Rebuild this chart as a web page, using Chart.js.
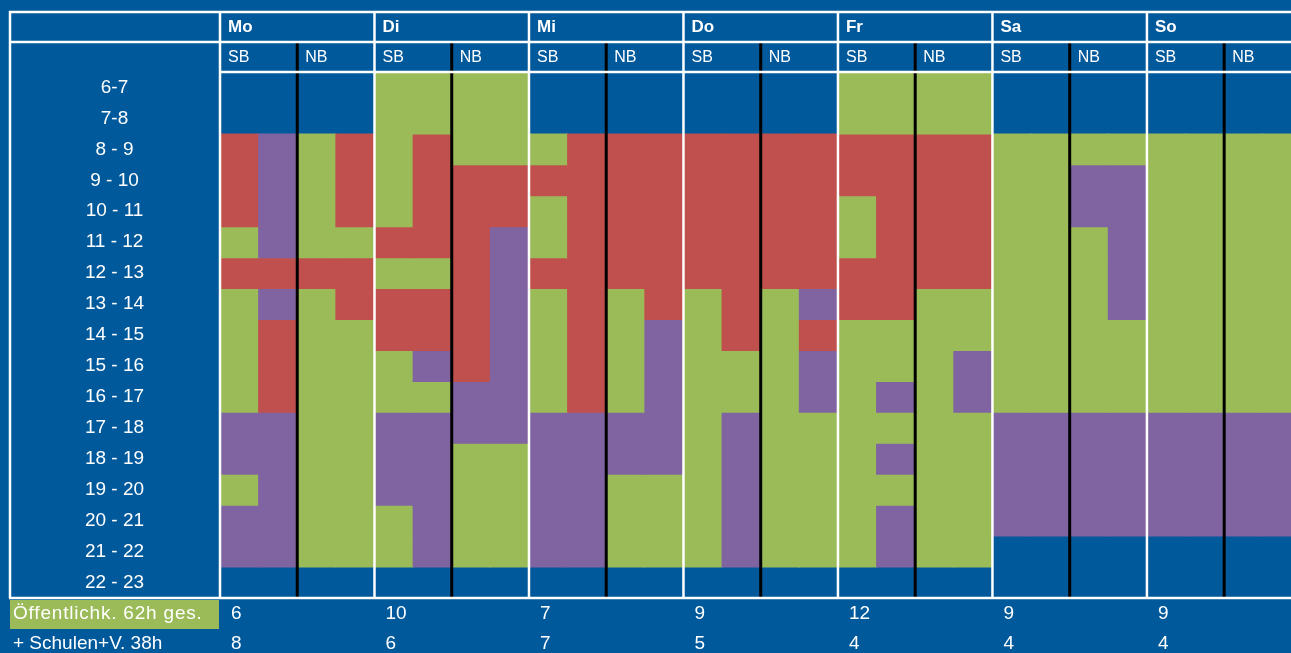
<!DOCTYPE html>
<html>
<head>
<meta charset="utf-8">
<script src="https://cdn.jsdelivr.net/npm/chart.js"></script>
<style>
  html, body { margin: 0; padding: 0; background: #00599b; overflow: hidden; }
  canvas { display: block; }
</style>
</head>
<body>
<canvas id="plan" width="1291" height="653"></canvas>
<script>
var days = ['Mo', 'Di', 'Mi', 'Do', 'Fr', 'Sa', 'So'];
var halves = ['SB', 'NB'];
var hours = ['6-7', '7-8', '8 - 9', '9 - 10', '10 - 11', '11 - 12', '12 - 13', '13 - 14', '14 - 15',
             '15 - 16', '16 - 17', '17 - 18', '18 - 19', '19 - 20', '20 - 21', '21 - 22', '22 - 23'];

// each day: 4 sub-columns (SB left, SB right, NB left, NB right), one letter per hour row
// B = nothing, G = green, R = red, P = purple
var mo = ['BBRRRGRGGGGPPGPPB', 'BBPPPPRPRRRPPPPPB', 'BBGGGGRGGGGGGGGGB', 'BBRRRGRRGGGGGGGGB'];
var di = ['GGGGGRGRRGGPPPGGB', 'GGRRRRGRRPGPPPPPB', 'GGGRRRRRRRPPGGGGB', 'GGGRRPPPPPPPGGGGB'];
var mi = ['BBGRGGRGGGGPPPPPB', 'BBRRRRRRRRRPPPPPB', 'BBRRRRRGGGGPPGGGB', 'BBRRRRRRPPPPPGGGB'];
var dn = ['BBRRRRRGGGGGGGGGB', 'BBRRRRRRRGGPPPPPB', 'BBRRRRRGGGGGGGGGB', 'BBRRRRRPRPPGGGGGB'];
var fr = ['GGRRGGRRGGGGGGGGB', 'GGRRRRRRGGPGPGPPB', 'GGRRRRRGGGGGGGGGB', 'GGRRRRRGGPPGGGGGB'];
var sa = ['BBGGGGGGGGGPPPPBB', 'BBGGGGGGGGGPPPPBB', 'BBGPPGGGGGGPPPPBB', 'BBGPPPPPGGGPPPPBB'];
var so = ['BBGGGGGGGGGPPPPBB', 'BBGGGGGGGGGPPPPBB', 'BBGGGGGGGGGPPPPBB', 'BBGGGGGGGGGPPPPBB'];

var rowTitles = ['Öffentlichk. 62h ges.', '+ Schulen+V. 38h'];
var oeffentlich = [6, 10, 7, 9, 12, 9, 9];
var schulen = [8, 6, 7, 5, 4, 4, 4];

var colours = { G: '#9bbb59', R: '#c0504d', P: '#8064a2' };

var slots = [];
[mo, di, mi, dn, fr, sa, so].forEach(function(day){
    day.forEach(function(col){ slots.push(col); });
});

var datasets = hours.map(function(h, r){
    var data = [], bg = [];
    slots.forEach(function(col, i){
        var code = col.charAt(r);
        if (code === 'B') return;
        data.push({ x: i, y: [6 + r, 7 + r] });
        bg.push(colours[code]);
    });
    return {
        label: h,
        data: data,
        backgroundColor: bg,
        borderWidth: 0,
        inflateAmount: 0.5,
        grouped: false,
        barPercentage: 1,
        categoryPercentage: 1
    };
});

var font = '"Liberation Sans", Arial, sans-serif';

var frame = {
    id: 'frame',
    afterDatasetsDraw: function(chart){
        var ctx = chart.ctx, a = chart.chartArea;
        var xs = chart.scales.x, ys = chart.scales.y;
        var W = chart.width, left = 9, top = 11, mid = 42;

        function line(x1, y1, x2, y2, col, w){
            ctx.beginPath();
            ctx.strokeStyle = col;
            ctx.lineWidth = w;
            ctx.moveTo(x1, y1);
            ctx.lineTo(x2, y2);
            ctx.stroke();
        }
        ctx.save();

        // SB | NB split
        days.forEach(function(d, k){
            var bx = xs.getPixelForValue(4 * k + 1.5);
            line(bx, mid + 1, bx, a.bottom, '#000', 3);
        });

        // white table lines
        line(left, top + 1, W, top + 1, '#fff', 2.5);
        line(left, mid, W, mid, '#fff', 2.5);
        line(a.left, a.top, W, a.top, '#fff', 2.5);
        line(left, a.bottom, W, a.bottom, '#fff', 2.5);
        line(left + 1, top, left + 1, a.bottom, '#fff', 2.5);
        days.forEach(function(d, k){
            var dx = xs.getPixelForValue(4 * k - 0.5);
            line(dx, top, dx, a.bottom, '#fff', 2.5);
        });

        ctx.fillStyle = '#fff';
        ctx.textBaseline = 'middle';
        ctx.textAlign = 'left';

        // day names and SB / NB
        days.forEach(function(d, k){
            var dx = xs.getPixelForValue(4 * k - 0.5);
            ctx.font = 'bold 17px ' + font;
            ctx.fillText(d, dx + 8, 27);
            ctx.font = '16px ' + font;
            halves.forEach(function(hv, j){
                var hx = xs.getPixelForValue(4 * k + 2 * j - 0.5);
                ctx.fillText(hv, hx + 8, 58);
            });
        });

        // hour labels
        ctx.font = '19px ' + font;
        ctx.textAlign = 'center';
        hours.forEach(function(h, r){
            ctx.fillText(h, (left + a.left) / 2, ys.getPixelForValue(6.5 + r));
        });

        // footer rows
        var y1 = a.bottom + 16, y2 = a.bottom + 46;
        ctx.fillStyle = '#9bbb59';
        ctx.fillRect(left + 1, a.bottom + 2, a.left - left - 2, 29);
        ctx.fillStyle = '#fff';
        ctx.textAlign = 'left';
        ctx.letterSpacing = '0.8px';
        ctx.fillText(rowTitles[0], 13, y1);
        ctx.letterSpacing = '0px';
        ctx.fillText(rowTitles[1], 13, y2);
        days.forEach(function(d, k){
            var dx = xs.getPixelForValue(4 * k - 0.5);
            ctx.fillText(String(oeffentlich[k]), dx + 11, y1);
            ctx.fillText(String(schulen[k]), dx + 11, y2);
        });
        ctx.restore();
    }
};

var chart = new Chart(document.getElementById('plan').getContext('2d'), {
    type: 'bar',
    data: { datasets: datasets },
    options: {
        responsive: false,
        animation: false,
        devicePixelRatio: 1,
        layout: { padding: { left: 220, top: 72, right: 0, bottom: 55 } },
        plugins: { legend: { display: false }, tooltip: { enabled: false } },
        scales: {
            x: {
                type: 'linear', min: -0.5, max: 27.23, offset: false, display: false,
                afterBuildTicks: function(s){
                    s.ticks = slots.map(function(c, i){ return { value: i }; });
                }
            },
            y: { type: 'linear', min: 6, max: 23, reverse: true, display: false }
        }
    },
    plugins: [frame]
});
</script>
</body>
</html>
